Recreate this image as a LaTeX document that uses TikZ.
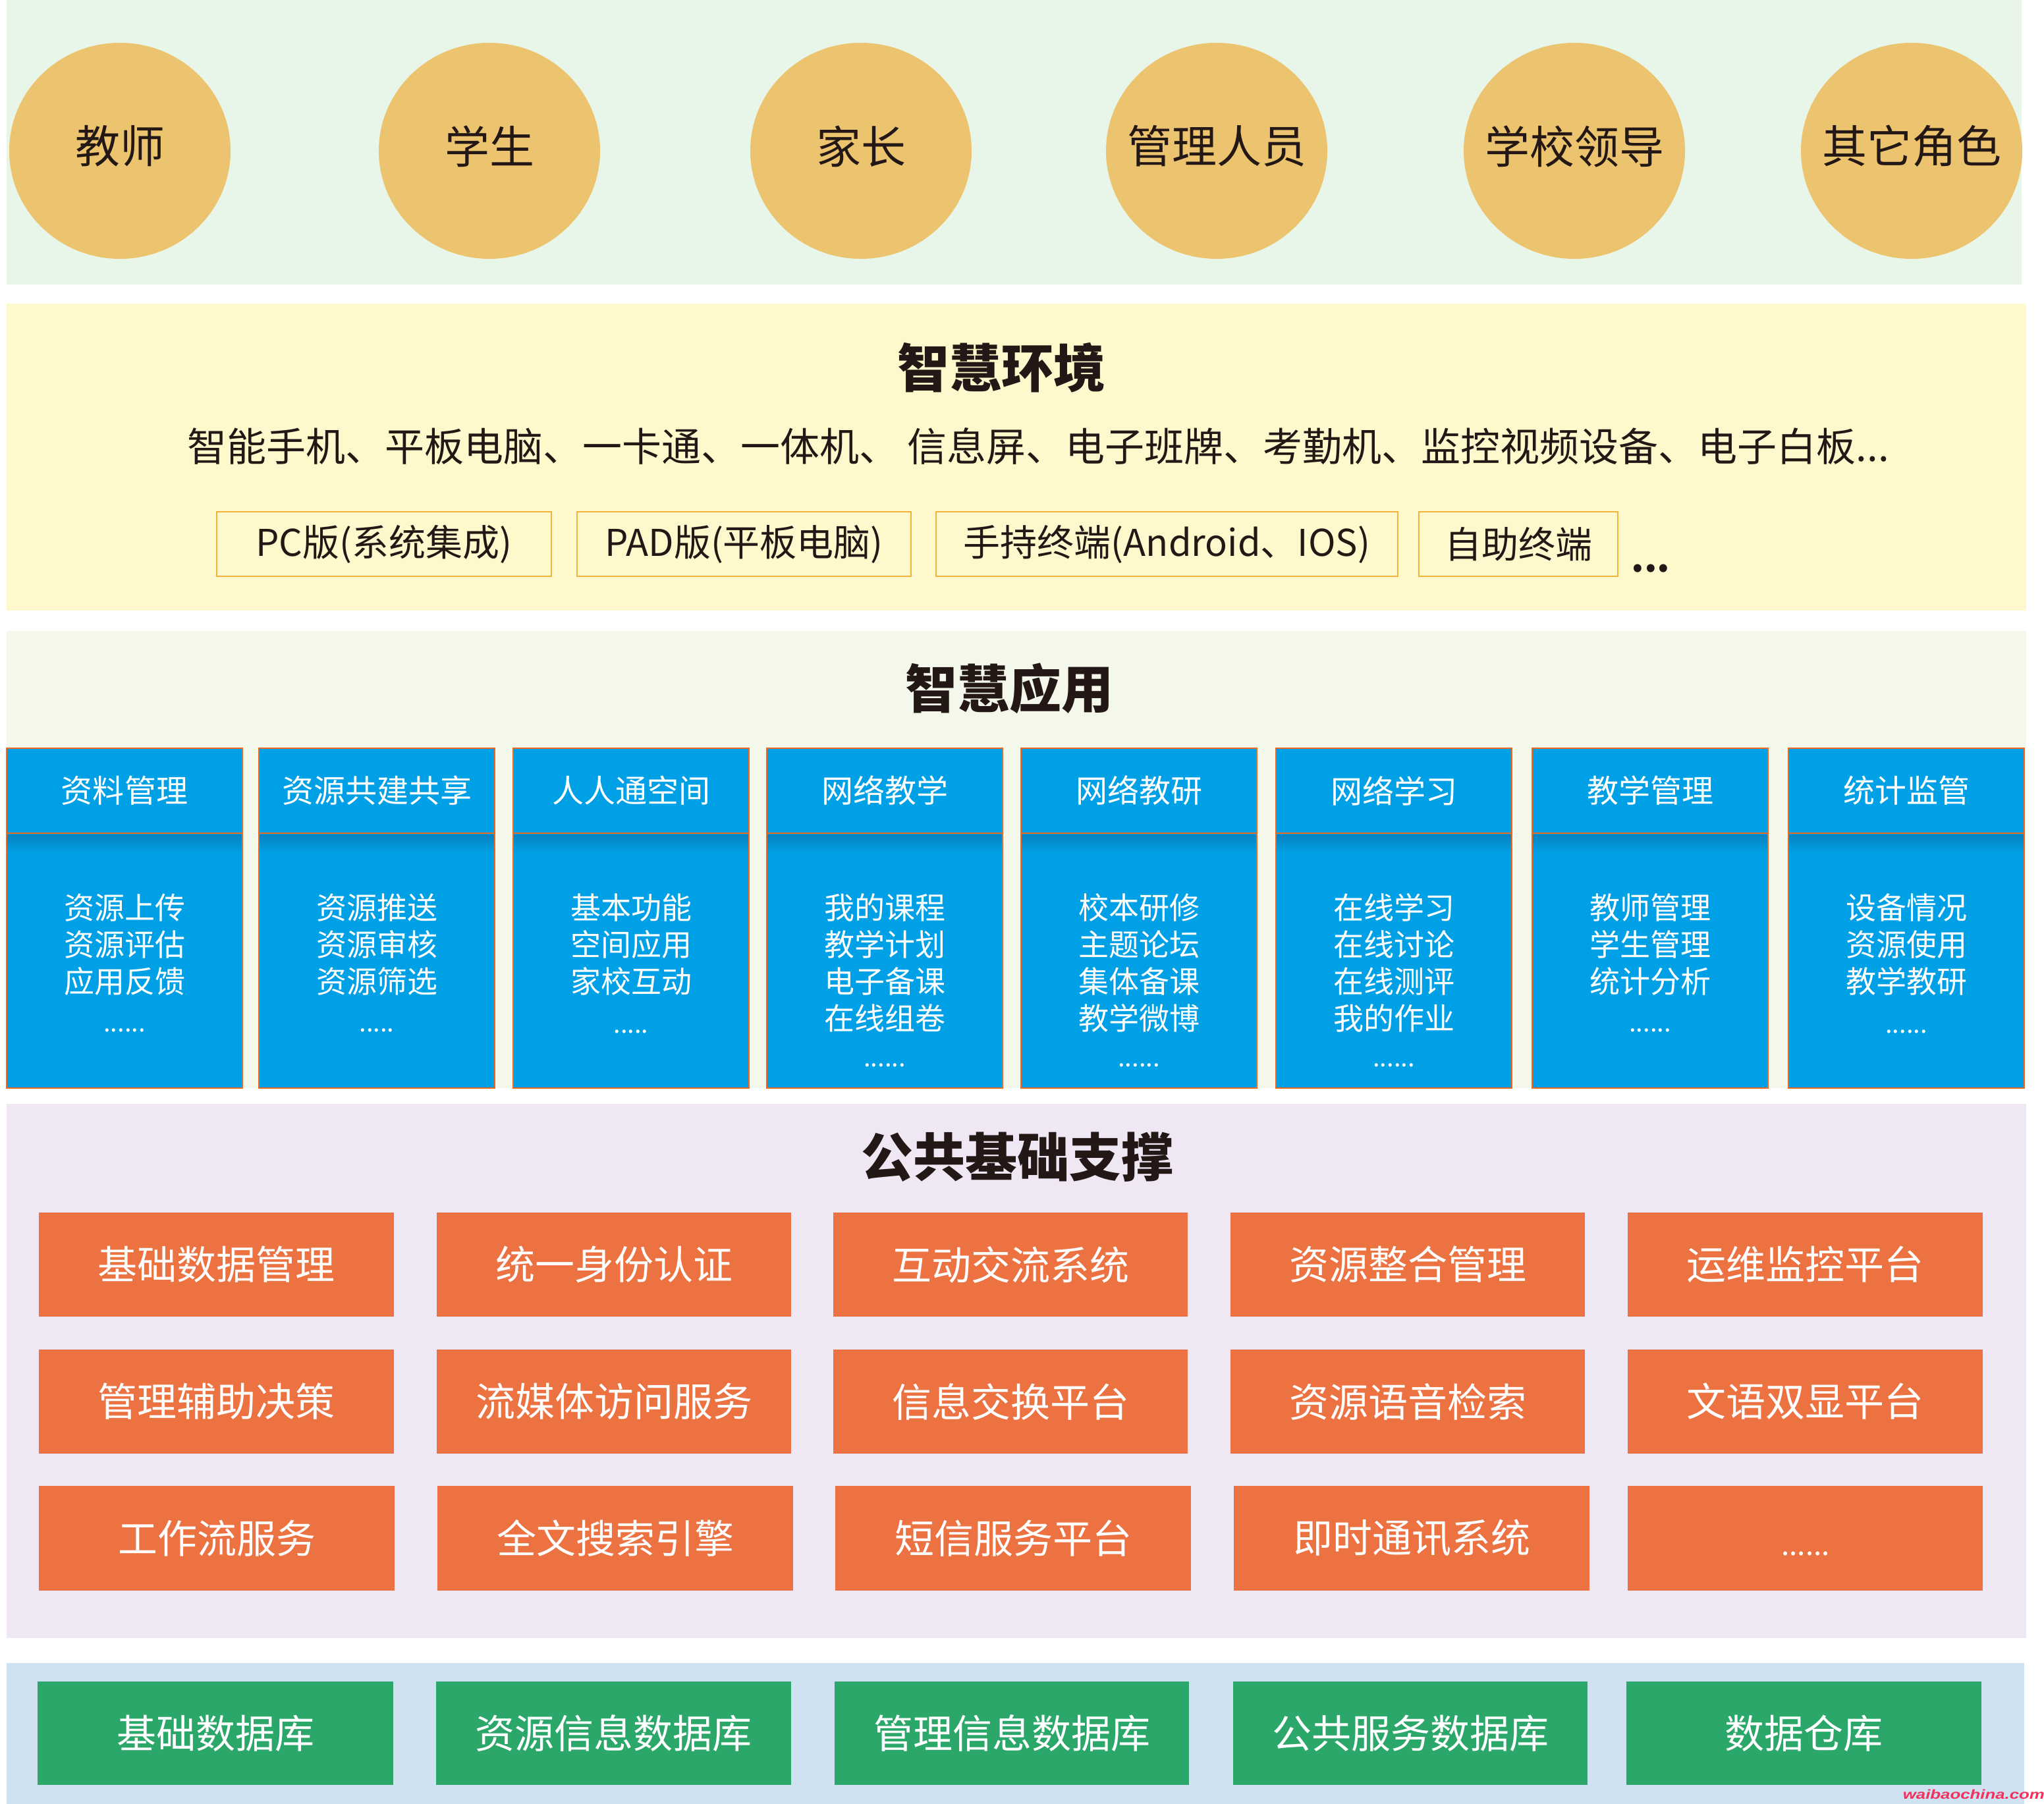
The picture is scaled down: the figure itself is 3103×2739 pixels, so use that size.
\documentclass[tikz,border=0pt]{standalone}
\usepackage{fontspec}
\usepackage{graphicx}
\newfontfamily\cjk{Noto Sans CJK SC}
\newfontfamily\wmfont{Liberation Sans}
\usetikzlibrary{shapes.geometric}
\definecolor{bandA}{HTML}{E8F6E9}
\definecolor{bandB}{HTML}{FEF8CC}
\definecolor{bandC}{HTML}{F4F8EA}
\definecolor{bandD}{HTML}{EFE7F4}
\definecolor{bandE}{HTML}{CFE2F1}
\definecolor{circ}{HTML}{ECC46F}
\definecolor{txt}{HTML}{231815}
\definecolor{termc}{HTML}{F2B33D}
\definecolor{blu}{HTML}{00A0E6}
\definecolor{bluesh}{HTML}{0682C0}
\definecolor{bord}{HTML}{EE681E}
\definecolor{oran}{HTML}{EC7242}
\definecolor{gree}{HTML}{2BA869}
\definecolor{wmc}{HTML}{F0325C}
\tikzset{
  role/.style={ellipse, fill=circ, minimum width=84pt, minimum height=82pt, inner sep=0pt},
  roletxt/.style={font=\cjk\fontsize{17pt}{20pt}\selectfont, text=txt, inner sep=0pt},
  ttl/.style={font=\cjk\bfseries\fontsize{19.75pt}{22pt}\selectfont, text=txt, inner sep=0pt},
  dev/.style={font=\cjk\fontsize{15pt}{18pt}\selectfont, text=txt, inner sep=0pt},
  term/.style={draw=termc, line width=0.35pt, font=\cjk\fontsize{14pt}{17pt}\selectfont, text=txt, inner sep=0pt},
  bhead/.style={draw=bord, fill=blu, line width=0.7pt, text=white,
    font=\cjk\fontsize{12pt}{14pt}\selectfont, inner sep=0pt},
  bbody/.style={draw=bord, fill=blu, line width=0.7pt, inner sep=0pt},
  btxt/.style={text=white, align=center, font=\cjk\fontsize{11.5pt}{14pt}\selectfont, inner sep=0pt},
  bdots/.style={text=white, anchor=base, font=\cjk\fontsize{9.5pt}{11pt}\selectfont, inner sep=0pt},
  obox/.style={fill=oran, text=white, font=\cjk\fontsize{15pt}{18pt}\selectfont, inner sep=0pt},
  gbox/.style={fill=gree, text=white, font=\cjk\fontsize{15pt}{18pt}\selectfont, inner sep=0pt},
}
% style, name, x1, y1, x2, y2, text
\newcommand\rbox[7]{%
  \pgfmathsetmacro\rbw{(#5-#3)*0.25}%
  \pgfmathsetmacro\rbh{(#6-#4)*0.25}%
  \node[#1, minimum width=\rbw pt, minimum height=\rbh pt] (#2) at ({(#3+#5)/2},{(#4+#6)/2}) {#7};}
% role: name, x, text
\newcommand\role[3]{%
  \node[role] (#1) at (#2,229) {};
  \node[roletxt] (#1t) at (#2,222) {#3};}
% column: index, left x, header, body lines, dots, body centre y, dots baseline y
\newcommand\bcol[7]{%
  \rbox{bbody}{body#1}{#2}{1265}{#2+358}{1652}{}%
  \shade[top color=bluesh, bottom color=blu] (#2+1.5,1267) rectangle (#2+356.5,1296);
  \rbox{bhead}{head#1}{#2}{1136}{#2+358}{1265}{#3}%
  \node[btxt] (btxt#1) at (#2+179,#6) {#4};
  \node[bdots] (bdots#1) at (#2+179,#7) {#5};}
\begin{document}
\begin{tikzpicture}[x=0.25pt,y=-0.25pt]
\useasboundingbox (0,0) rectangle (3103,2739);
\fill[white] (0,0) rectangle (3103,2739);
% bands
\fill[bandA] (10,0) rectangle (3069,432);
\fill[bandB] (10,461) rectangle (3076,927);
\fill[bandC] (10,958) rectangle (3076,1652);
\fill[bandD] (10,1676) rectangle (3076,2487);
\fill[bandE] (10,2525) rectangle (3073,2739);
% roles
\role{r1}{182}{教师}
\role{r2}{743}{学生}
\role{r3}{1307}{家长}
\role{r4}{1847}{管理人员}
\role{r5}{2390}{学校领导}
\role{r6}{2902}{其它角色}
% smart environment
\node[ttl] (t1) at (1520,558) {智慧环境};
\node[dev] (devs) at (1576,678) {智能手机、平板电脑、一卡通、一体机、 信息屏、电子班牌、考勤机、监控视频设备、电子白板...};
\rbox{term}{k1}{329}{777}{837}{875}{PC版(系统集成)}
\rbox{term}{k2}{876}{777}{1383}{875}{PAD版(平板电脑)}
\rbox{term}{k3}{1421}{777}{2122}{875}{手持终端(Android、IOS)}
\rbox{term}{k4}{2154}{777}{2456}{875}{自助终端}
\node[font=\cjk\bfseries\fontsize{14pt}{17pt}\selectfont, text=txt, anchor=base, inner sep=0pt] (kdots) at (2506,868) {...};
% smart applications
\node[ttl] (t2) at (1532,1045) {智慧应用};
\bcol{1}{10}{资料管理}{资源上传\\资源评估\\应用反馈}{......}{1434}{1566}
\bcol{2}{393}{资源共建共享}{资源推送\\资源审核\\资源筛选}{.....}{1434}{1566}
\bcol{3}{779}{人人通空间}{基本功能\\空间应用\\家校互动}{.....}{1434}{1568}
\bcol{4}{1164}{网络教学}{我的课程\\教学计划\\电子备课\\在线组卷}{......}{1462}{1619}
\bcol{5}{1550}{网络教研}{校本研修\\主题论坛\\集体备课\\教学微博}{......}{1462}{1619}
\bcol{6}{1937}{网络学习}{在线学习\\在线讨论\\在线测评\\我的作业}{......}{1462}{1619}
\bcol{7}{2326}{教学管理}{教师管理\\学生管理\\统计分析}{......}{1434}{1566}
\bcol{8}{2715}{统计监管}{设备情况\\资源使用\\教学教研}{......}{1434}{1568}
% public support
\node[ttl] (t3) at (1544,1757) {公共基础支撑};
\rbox{obox}{o11}{59}{1841}{598}{1999}{基础数据管理}
\rbox{obox}{o12}{663}{1841}{1201}{1999}{统一身份认证}
\rbox{obox}{o13}{1265}{1841}{1803}{1999}{互动交流系统}
\rbox{obox}{o14}{1868}{1841}{2406}{1999}{资源整合管理}
\rbox{obox}{o15}{2471}{1841}{3010}{1999}{运维监控平台}
\rbox{obox}{o21}{59}{2049}{598}{2207}{管理辅助决策}
\rbox{obox}{o22}{663}{2049}{1201}{2207}{流媒体访问服务}
\rbox{obox}{o23}{1265}{2049}{1803}{2207}{信息交换平台}
\rbox{obox}{o24}{1868}{2049}{2406}{2207}{资源语音检索}
\rbox{obox}{o25}{2471}{2049}{3010}{2207}{文语双显平台}
\rbox{obox}{o31}{59}{2256}{599}{2415}{工作流服务}
\rbox{obox}{o32}{664}{2256}{1204}{2415}{全文搜索引擎}
\rbox{obox}{o33}{1268}{2256}{1808}{2415}{短信服务平台}
\rbox{obox}{o34}{1873}{2256}{2413}{2415}{即时通讯系统}
\rbox{obox}{o35}{2471}{2256}{3010}{2415}{}
\node[text=white, anchor=base, inner sep=0pt, font=\cjk\fontsize{11pt}{13pt}\selectfont] (o35dots) at (2741,2361) {......};
% databases
\rbox{gbox}{g1}{57}{2553}{597}{2710}{基础数据库}
\rbox{gbox}{g2}{662}{2553}{1201}{2710}{资源信息数据库}
\rbox{gbox}{g3}{1267}{2553}{1805}{2710}{管理信息数据库}
\rbox{gbox}{g4}{1872}{2553}{2410}{2710}{公共服务数据库}
\rbox{gbox}{g5}{2469}{2553}{3008}{2710}{数据仓库}
% watermark
\node[anchor=base west, inner sep=0pt, text=wmc] (wm) at (2888,2731)
  {\resizebox{53.75pt}{3.6pt}{\wmfont\bfseries\itshape waibaochina.com}};
\end{tikzpicture}
\end{document}
